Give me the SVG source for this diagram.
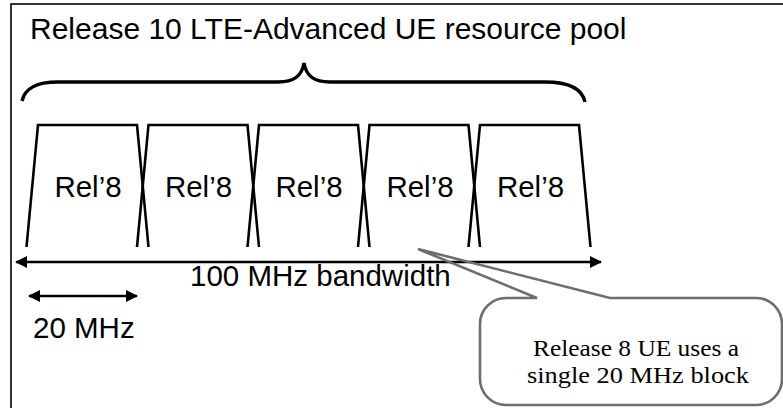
<svg xmlns="http://www.w3.org/2000/svg" width="783" height="408" viewBox="0 0 783 408">
<defs>
<style>
.sans{font-family:"Liberation Sans",Arial,sans-serif;fill:#000}
.lbl{font-size:29.5px;text-anchor:middle}
.blk{fill:none;stroke:#000;stroke-width:2.6;stroke-linejoin:miter}
.arr{fill:none;stroke:#000;stroke-width:2.5}
.serif{font-family:"Liberation Serif","Times New Roman",serif;font-size:24px;fill:#000;text-anchor:middle}
</style>
<marker id="ah" viewBox="0 0 12 12" refX="11" refY="6" markerWidth="12" markerHeight="12" markerUnits="userSpaceOnUse" orient="auto-start-reverse">
<path d="M0,0 L12,6 L0,12 Z" fill="#000"/>
</marker>
</defs>
<rect width="783" height="408" fill="#fff"/>
<rect id="frame" x="11" y="4" width="790" height="420" fill="none" stroke="#000" stroke-width="1.6"/>
<g id="title">
<text class="sans" x="30" y="39" font-size="30">Release 10 LTE-Advanced UE resource pool</text>
</g>
<g id="brace">
<path d="M22,101 C25,88 36,82 58,82 L278,82 C294,82 302,76 304,63 C306,76 314,82 330,82 L545,82 C567,82 582,88 585,102" fill="none" stroke="#000" stroke-width="3.4"/>
</g>
<g id="block1"><path class="blk" d="M26.5,247 L38,125 L137,125 L148.5,247"/><text class="sans lbl" x="88" y="197">Rel’8</text></g>
<g id="block2"><path class="blk" d="M137,247 L148.5,125 L247.5,125 L259,247"/><text class="sans lbl" x="198.5" y="197">Rel’8</text></g>
<g id="block3"><path class="blk" d="M247.5,247 L259,125 L358,125 L369.5,247"/><text class="sans lbl" x="309" y="197">Rel’8</text></g>
<g id="block4"><path class="blk" d="M358,247 L369.5,125 L468.5,125 L480,247"/><text class="sans lbl" x="420" y="197">Rel’8</text></g>
<g id="block5"><path class="blk" d="M468.5,247 L480,125 L579,125 L590.5,247"/><text class="sans lbl" x="530.5" y="197">Rel’8</text></g>
<g id="connectors">
<line class="arr" x1="16" y1="262" x2="601" y2="262" marker-start="url(#ah)" marker-end="url(#ah)"/>
<line class="arr" x1="29" y1="296" x2="137" y2="296" marker-start="url(#ah)" marker-end="url(#ah)"/>
</g>
<g id="bw-label"><text class="sans" x="190" y="286" font-size="29.5">100 MHz bandwidth</text></g>
<g id="mhz-label"><text class="sans" x="33" y="338" font-size="29.5">20 MHz</text></g>
<g id="callout">
<path d="M506,298 L537,298 L418,249 L610,298 L756,298 A26,26 0 0 1 782,324 L782,379 A26,26 0 0 1 756,405 L506,405 A26,26 0 0 1 480,379 L480,324 A26,26 0 0 1 506,298 Z" fill="none" stroke="#6e6e6e" stroke-width="2.6" stroke-linejoin="miter"/>
<text class="serif" x="636" y="356" textLength="206" lengthAdjust="spacingAndGlyphs">Release 8 UE uses a</text>
<text class="serif" x="638" y="383" textLength="222" lengthAdjust="spacingAndGlyphs">single 20 MHz block</text>
</g>
</svg>
